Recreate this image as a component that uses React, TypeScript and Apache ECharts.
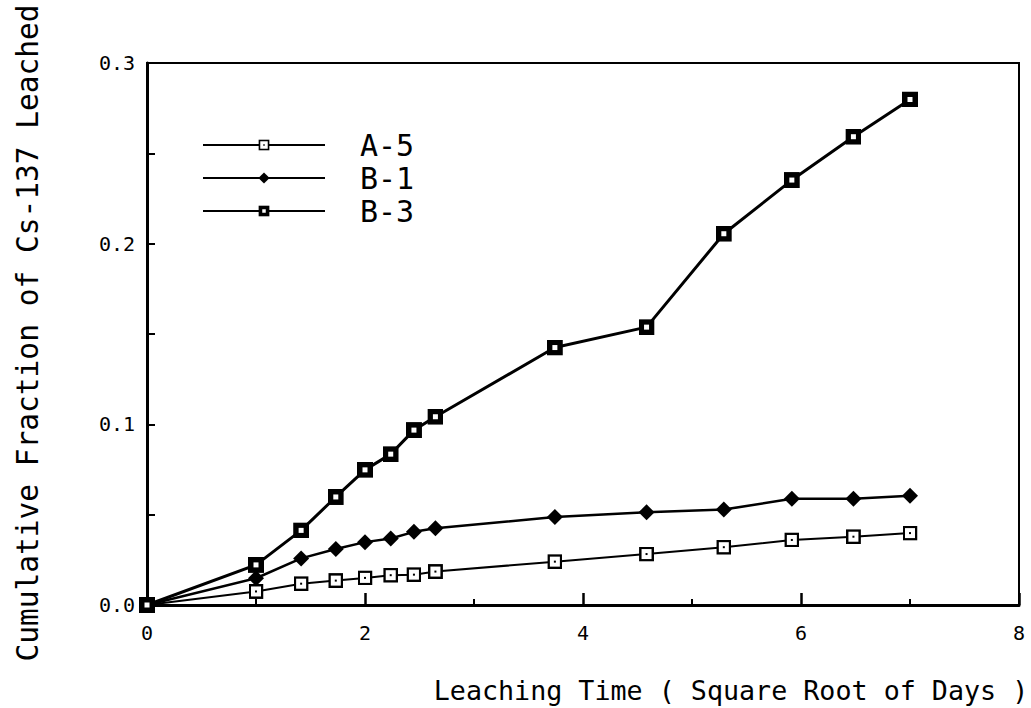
import React, { useEffect, useRef } from "react";
import * as echarts from "echarts";

// Leaching time, square root of days (1, 2, 3, 4, 5, 6, 7, 14, 21, 28, 35, 42, 49 days)
const sqrtDays = [0, 1, 1.414, 1.732, 2, 2.236, 2.449, 2.646, 3.742, 4.583, 5.292, 5.916, 6.481, 7];

// Cumulative fraction of Cs-137 leached per specimen
const seriesA5 = [0, 0.0075, 0.0118, 0.0135, 0.015, 0.0165, 0.0168, 0.0185, 0.024, 0.0282, 0.032, 0.036, 0.0378, 0.0398];
const seriesB1 = [0, 0.0148, 0.0258, 0.031, 0.0348, 0.0368, 0.0405, 0.0425, 0.0487, 0.0513, 0.0528, 0.0588, 0.0588, 0.0605];
const seriesB3 = [0, 0.0222, 0.0413, 0.0598, 0.0748, 0.0835, 0.0968, 0.1042, 0.1425, 0.1538, 0.2055, 0.2352, 0.2592, 0.2798];

const seriesNames = ["A-5", "B-1", "B-3"];

const FONT = "'DejaVu Sans Mono', monospace";

const svgUri = (svg: string) => "image://data:image/svg+xml;charset=utf-8," + encodeURIComponent(svg);

// open square with a centre dot
const openSquare = svgUri(
  '<svg xmlns="http://www.w3.org/2000/svg" width="15" height="15" viewBox="0 0 15 15">' +
    '<rect x="1.25" y="1.25" width="12.5" height="12.5" fill="#fff" stroke="#000" stroke-width="2.5"/>' +
    '<rect x="6.5" y="6.5" width="2" height="2" fill="#000"/></svg>'
);

// heavy square with a small white centre
const heavySquare = svgUri(
  '<svg xmlns="http://www.w3.org/2000/svg" width="16" height="16" viewBox="0 0 16 16">' +
    '<rect x="0" y="0" width="16" height="16" fill="#000"/>' +
    '<rect x="5.5" y="5.5" width="5" height="5" fill="#fff"/></svg>'
);

const pairs = (ys: number[]) => sqrtDays.map((x, i) => [x, ys[i]]);

export default function App() {
  const ref = useRef<HTMLDivElement>(null);

  useEffect(() => {
    document.body.style.margin = "0";
    if (!ref.current) return;
    const chart = echarts.init(ref.current, undefined, { renderer: "svg" });

    const lineBase = {
      type: "line" as const,
      showAllSymbol: true,
      clip: false,
      lineStyle: { color: "#000", width: 2.5 },
      itemStyle: { color: "#000" },
      emphasis: { disabled: true },
    };

    chart.setOption({
      animation: false,
      backgroundColor: "#fff",
      grid: {
        left: 147,
        right: 12,
        top: 63,
        bottom: 103,
        show: true,
        borderColor: "#000",
        borderWidth: 2,
      },
      legend: {
        data: seriesNames,
        orient: "vertical",
        left: 197,
        top: 125,
        itemWidth: 122,
        itemHeight: 14,
        itemGap: 3,
        selectedMode: false,
        textStyle: {
          fontFamily: FONT,
          fontSize: 30,
          color: "#000",
          padding: [0, 0, 0, 30],
        },
      },
      xAxis: {
        type: "value",
        min: 0,
        max: 8,
        interval: 2,
        axisLine: { onZero: false, lineStyle: { color: "#000", width: 3 } },
        axisTick: { show: true, inside: true, length: 12, lineStyle: { color: "#000", width: 2.5 } },
        minorTick: { show: true, splitNumber: 2, length: 6, lineStyle: { color: "#000", width: 2 } },
        splitLine: { show: false },
        axisLabel: {
          margin: 18,
          fontFamily: FONT,
          fontSize: 20,
          color: "#000",
          formatter: (v: number) => String(v),
        },
      },
      yAxis: {
        type: "value",
        min: 0,
        max: 0.3,
        interval: 0.1,
        axisLine: { onZero: false, lineStyle: { color: "#000", width: 3 } },
        axisTick: { show: true, inside: true, length: 8, lineStyle: { color: "#000", width: 2 } },
        minorTick: { show: true, splitNumber: 2, length: 8, lineStyle: { color: "#000", width: 2 } },
        splitLine: { show: false },
        axisLabel: {
          margin: 12,
          fontFamily: FONT,
          fontSize: 20,
          color: "#000",
          formatter: (v: number) => v.toFixed(1),
        },
      },
      graphic: [
        {
          type: "text",
          x: 731,
          y: 690,
          style: {
            text: "Leaching Time ( Square Root of Days )",
            font: `26.7px ${FONT}`,
            fill: "#000",
            align: "center",
            verticalAlign: "middle",
          },
        },
        {
          type: "text",
          x: 28,
          y: 333,
          rotation: Math.PI / 2,
          style: {
            text: "Cumulative Fraction of Cs-137 Leached",
            font: `29.5px ${FONT}`,
            fill: "#000",
            align: "center",
            verticalAlign: "middle",
          },
        },
      ],
      series: [
        {
          ...lineBase,
          name: "A-5",
          symbol: openSquare,
          symbolSize: 15,
          lineStyle: { color: "#000", width: 2 },
          data: pairs(seriesA5),
          z: 3,
        },
        {
          ...lineBase,
          name: "B-1",
          symbol: "diamond",
          symbolSize: 16,
          data: pairs(seriesB1),
          z: 4,
        },
        {
          ...lineBase,
          name: "B-3",
          symbol: heavySquare,
          symbolSize: 16,
          lineStyle: { color: "#000", width: 3 },
          data: pairs(seriesB3),
          z: 5,
        },
      ],
    });

    return () => chart.dispose();
  }, []);

  return <div ref={ref} style={{ width: 1031, height: 708 }} />;
}
